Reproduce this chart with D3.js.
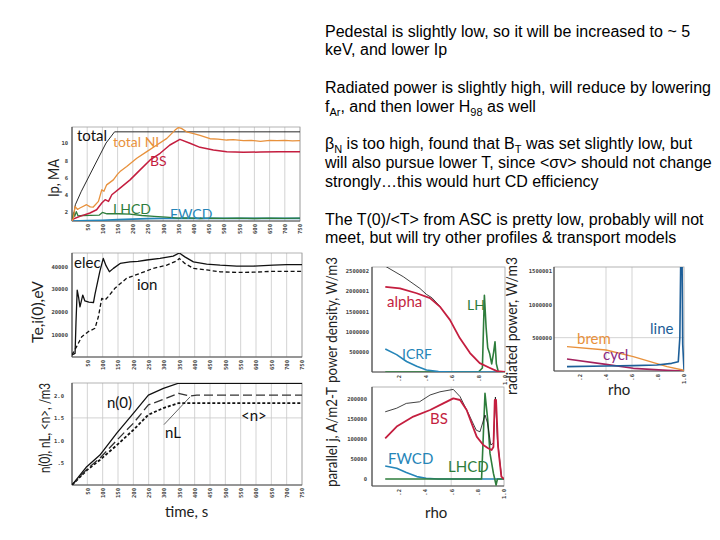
<!DOCTYPE html>
<html><head><meta charset="utf-8">
<script src="https://cdn.jsdelivr.net/npm/d3@7"></script>
<style>body{margin:0;background:#fff}svg{display:block}</style>
</head><body>
<script>
// ================= DATA =================
const timeTicks = [50,100,150,200,250,300,350,400,450,500,550,600,650,700,750];

// Ip panel (time s, MA)
const ipTicks = [2,4,6,8,10];
const ipTotal = [[0,0.96],[4,1.3],[11,2.85],[30,4.35],[75,7.46],[112,10.0],[140,11.3],[200,11.3],[300,11.3],[400,11.3],[500,11.3],[600,11.3],[750,11.3]];
const ipTotalNI = [[0,0.96],[4,1.2],[10,2.65],[18,2.3],[26,2.47],[48,2.85],[60,2.6],[70,2.58],[87,3.23],[98,4.58],[105,4.4],[114,5.15],[136,5.73],[150,6.4],[158,6.69],[180,7.27],[213,8.23],[246,9.0],[279,9.77],[312,10.54],[339,11.5],[350,11.8],[360,11.7],[377,11.3],[400,11.1],[421,10.9],[454,10.5],[480,10.45],[509,10.35],[530,10.4],[564,10.27],[590,10.3],[620,10.2],[650,10.3],[675,10.27],[700,10.3],[725,10.25],[750,10.27]];
const ipBS = [[0,0.96],[4,1.2],[26,1.5],[59,1.89],[81,2.27],[98,3.04],[109,3.43],[120,3.23],[131,4.0],[158,4.77],[191,5.73],[224,6.89],[257,8.04],[290,8.81],[322,9.77],[355,10.43],[388,9.97],[421,9.5],[465,9.19],[509,9.0],[564,8.92],[620,8.96],[680,8.98],[750,9.0]];
const ipLHCD = [[0,0.96],[5,1.9],[9,1.5],[14,2.05],[20,1.55],[35,1.6],[60,1.62],[90,1.65],[100,1.95],[115,1.8],[150,1.8],[190,1.75],[230,1.6],[270,1.5],[310,1.4],[350,1.3],[380,1.32],[420,1.25],[460,1.3],[500,1.26],[550,1.3],[600,1.25],[650,1.3],[700,1.27],[750,1.3]];
const ipFWCD = [[0,0.96],[50,1.0],[100,1.05],[150,1.12],[200,1.18],[250,1.23],[300,1.26],[350,1.27],[450,1.27],[550,1.26],[650,1.27],[750,1.27]];

// Te,i(0) panel (time s, eV)
const teTicks = [10000,20000,30000,40000];
const teElec = [[0,900],[10,1600],[13,15300],[17,29600],[22,26000],[26,22200],[35,27400],[42,24800],[55,24300],[70,24100],[75,27800],[91,38000],[102,43600],[111,40400],[122,37700],[135,39200],[157,41400],[189,42100],[215,42300],[244,42900],[287,43600],[330,44600],[350,46000],[368,44300],[396,42100],[439,41100],[483,40600],[537,40200],[591,40200],[656,40600],[700,40900],[750,40900]];
const teIon = [[0,900],[15,4600],[32,9000],[53,11200],[75,12700],[86,17800],[97,25900],[108,25200],[118,26700],[140,30400],[178,34800],[222,37000],[265,39200],[309,40600],[341,42500],[350,43600],[368,41400],[396,39200],[439,38500],[483,37700],[537,37400],[591,37500],[656,37900],[750,37900]];

// density panel (time s, 1e20/m3)
const nTicks = [0.5,1.0,1.5,2.0];
const nTickLabels = [".5","1.0","1.5","2.0"];
const n0 = [[0,0],[48,0.41],[91,0.67],[146,1.16],[200,1.6],[249,2.01],[298,2.16],[345,2.27],[750,2.27]];
const nL = [[0,0],[48,0.35],[91,0.6],[146,1.0],[200,1.38],[249,1.79],[308,1.94],[347,2.05],[385,1.99],[407,2.01],[750,2.01]];
const nAvg = [[0,0],[48,0.33],[91,0.56],[146,0.89],[200,1.23],[249,1.57],[298,1.72],[347,1.83],[750,1.83]];

// rho axis
const rhoTicks = [0.2,0.4,0.6,0.8,1.0];
const rhoTickLabels = [".2",".4",".6",".8","1.0"];

// power density panel (rho, W/m3)
const pdTicks = [500000,1000000,1500001,2000001,2500002];
const pdTotal = [[0.1,2.62e6],[0.235,2.36e6],[0.36,2.07e6],[0.41,1.92e6],[0.45,1.84e6],[0.51,1.63e6]];
const pdAlpha = [[0.1,2.11e6],[0.21,2.07e6],[0.336,1.95e6],[0.436,1.83e6],[0.51,1.62e6],[0.586,1.29e6],[0.66,0.84e6],[0.737,0.47e6],[0.81,0.22e6],[0.887,0.1e6],[0.94,0.02e6],[1.0,0]];
const pdICRF = [[0.1,0.57e6],[0.185,0.43e6],[0.26,0.26e6],[0.336,0.14e6],[0.41,0.05e6],[0.5,0.01e6],[0.6,0],[1.0,0]];
const pdLH = [[0.1,0],[0.8,0],[0.83,0.1e6],[0.845,1.9e6],[0.858,1.1e6],[0.87,0.6e6],[0.885,0.45e6],[0.9,0.2e6],[0.915,0.5e6],[0.925,0.75e6],[0.935,0.2e6],[0.95,0],[1.0,0]];

// radiated power panel (rho, W/m3)
const radTicks = [500000,1000000,1500001];
const radLine = [[0.1,0.065e6],[0.4,0.075e6],[0.61,0.08e6],[0.79,0.09e6],[0.905,0.115e6],[0.956,0.14e6],[0.968,0.5e6],[0.975,1.7e6],[0.985,1.7e6],[0.99,0.4e6],[1.0,0.02e6]];
const radBrem = [[0.1,0.365e6],[0.4,0.315e6],[0.61,0.215e6],[0.74,0.14e6],[0.87,0.065e6],[1.0,0.01e6]];
const radCycl = [[0.1,0.18e6],[0.4,0.1e6],[0.61,0.04e6],[0.87,0.01e6],[1.0,0]];

// parallel current panel (rho, A/m2-T)
const jTicks = [0,50000,100000,150000,200000];
const jTotal = [[0.1,168000],[0.187,177000],[0.26,189000],[0.36,193000],[0.44,210000],[0.515,218000],[0.616,224000],[0.667,206000],[0.73,164000],[0.79,122000],[0.818,118000],[0.856,160000],[0.875,140000],[0.9,85000],[0.92,90000],[0.935,205000],[0.95,100000],[0.98,10000]];
const jBS = [[0.1,101700],[0.187,131000],[0.313,156000],[0.44,172500],[0.54,189000],[0.616,201500],[0.667,197500],[0.717,172500],[0.755,139000],[0.793,106000],[0.843,85000],[0.88,77000],[0.906,72500],[0.92,80000],[0.93,197500],[0.94,197500],[0.955,81000],[0.98,6000],[1.0,0]];
const jFWCD = [[0.1,32500],[0.187,26700],[0.26,16000],[0.34,6000],[0.41,2000],[0.5,0],[1.0,0]];
const jLHCD = [[0.1,0],[0.83,0],[0.856,214000],[0.877,147000],[0.894,64000],[0.92,14000],[0.94,-15000],[0.95,0],[1.0,0]];

// slide notes (segments: [text, isSubscript])
const notes = [
  [["Pedestal is slightly low, so it will be increased to ~ 5"]],
  [["keV, and lower Ip"]],
  [],
  [["Radiated power is slightly high, will reduce by lowering"]],
  [["f"],["Ar",1],[", and then lower H"],["98",1],[" as well"]],
  [],
  [["β"],["N",1],[" is too high, found that B"],["T",1],[" was set slightly low, but"]],
  [["will also pursue lower T, since <σv> should not change"]],
  [["strongly…this would hurt CD efficiency"]],
  [],
  [["The T(0)/<T> from ASC is pretty low, probably will not"]],
  [["meet, but will try other profiles & transport models"]]
];

// ================= DRAW =================
const C = {orange:"#e8913c", red:"#c41e3f", green:"#2e7d3c", teal:"#2585b8", blue:"#1d5e98", purple:"#8c2a82", magenta:"#a3225e"};
const LF = "Lato, 'Open Sans', sans-serif";
const TF = "'DejaVu Sans Mono', monospace";
const svg = d3.select("body").append("svg").attr("width",720).attr("height",540);
let cid = 0;

function panel(o){
  const g = svg.append("g");
  const x = d3.scaleLinear().domain(o.xd).range([o.l,o.r]);
  const y = d3.scaleLinear().domain(o.yd).range([o.b,o.t]);
  const id = "clip"+(cid++);
  svg.append("clipPath").attr("id",id).append("rect")
    .attr("x",o.l).attr("y",o.t).attr("width",o.r-o.l).attr("height",o.b-o.t);
  g.selectAll(null).data(o.vGrid||[]).join("line")
    .attr("x1",d=>x(d)).attr("x2",d=>x(d)).attr("y1",o.t).attr("y2",o.b)
    .attr("stroke","#c8c8c8").attr("stroke-width",0.8);
  g.selectAll(null).data(o.hGrid||[]).join("line")
    .attr("y1",d=>y(d)).attr("y2",d=>y(d)).attr("x1",o.l).attr("x2",o.r)
    .attr("stroke","#c8c8c8").attr("stroke-width",0.8);
  g.append("rect").attr("x",o.l).attr("y",o.t).attr("width",o.r-o.l).attr("height",o.b-o.t)
    .attr("fill","none").attr("stroke","#a0a0a0").attr("stroke-width",0.8);
  g.append("line").attr("x1",o.l).attr("x2",o.l).attr("y1",o.t).attr("y2",o.b).attr("stroke","#333").attr("stroke-width",1);
  g.append("line").attr("x1",o.l).attr("x2",o.r).attr("y1",o.b).attr("y2",o.b).attr("stroke","#555").attr("stroke-width",1);
  const xa = g.append("g").attr("transform",`translate(0,${o.b})`)
    .call(d3.axisBottom(x).tickValues(o.xTicks).tickSize(0).tickFormat((d,i)=>o.xLabels?o.xLabels[i]:d));
  xa.select(".domain").remove();
  xa.selectAll("text").attr("transform","rotate(-90)").attr("x",-3).attr("y",0).attr("dy","0.35em")
    .attr("text-anchor","end").attr("font-family",TF).attr("font-size",5.5).attr("font-weight","bold").attr("fill","#444");
  const ya = g.append("g").attr("transform",`translate(${o.l},0)`)
    .call(d3.axisLeft(y).tickValues(o.yTicks).tickSize(0).tickPadding(o.yPad||4).tickFormat((d,i)=>o.yLabels?o.yLabels[i]:d));
  ya.select(".domain").remove();
  ya.selectAll("text").attr("font-family",TF).attr("font-size",5.5).attr("font-weight","bold").attr("fill","#444");
  const plot = g.append("g").attr("clip-path",`url(#${id})`);
  const draw = (data,color,w,dash)=>plot.append("path").datum(data)
    .attr("d",d3.line().x(d=>x(d[0])).y(d=>y(d[1])))
    .attr("fill","none").attr("stroke",color).attr("stroke-width",w)
    .attr("stroke-linejoin","round").attr("stroke-dasharray",dash||null);
  return {x,y,draw,g};
}
function label(txt,x,y,color,size,opts={}){
  return svg.append("text").attr("x",x).attr("y",y).attr("fill",color).attr("font-family",LF)
    .attr("font-size",size).attr("font-weight",opts.bold?"bold":"normal").text(txt);
}
function vtitle(txt,cx,cy,size,len){
  const t = svg.append("text").attr("transform",`translate(${cx},${cy}) rotate(-90)`)
    .attr("text-anchor","middle").attr("dy","0.35em").attr("font-family",LF).attr("font-size",size)
    .attr("fill","#222").text(txt);
  if(len) t.attr("textLength",len).attr("lengthAdjust","spacingAndGlyphs");
}

// ---- Ip panel
const p1 = panel({l:72,r:300,t:127,b:221,xd:[0,750],yd:[0.96,11.86],xTicks:timeTicks,yTicks:ipTicks,vGrid:timeTicks});
p1.draw(ipFWCD,C.teal,1.6);
p1.draw(ipLHCD,C.green,1.3);
p1.draw(ipTotal,"#111",0.9);
p1.draw(ipBS,C.red,1.5);
p1.draw(ipTotalNI,C.orange,1.3);
label("total",77,141,"#111",15);
label("total NI",113,147,C.orange,14);
label("BS",150,166,C.red,14);
label("LHCD",113,214,C.green,14);
label("FWCD",170,219,C.teal,14);
vtitle("Ip, MA",54,178,15,38);

// ---- Te panel
const p2 = panel({l:72,r:302,t:253,b:357,xd:[0,750],yd:[0,46000],xTicks:timeTicks,yTicks:teTicks,vGrid:timeTicks});
p2.draw(teIon,"#111",1.3,"4,2.5");
p2.draw(teElec,"#111",1.3);
label("elec",74,268,"#111",15);
label("ion",137,290,"#111",15);
vtitle("Te,i(0),eV",38,312,15,62);

// ---- density panel
const p3 = panel({l:72,r:302,t:383,b:485,xd:[0,750],yd:[0,2.28],xTicks:timeTicks,yTicks:nTicks,yLabels:nTickLabels,vGrid:timeTicks,hGrid:[1.5],yPad:8});
p3.draw(nAvg,"#111",1.8,"3,2");
p3.draw(nL,"#333",1.3,"9,4");
p3.draw(n0,"#111",1.3);
label("n(0)",107,408,"#111",15);
label("nL",165,438,"#111",15);
label("<n>",241,421,"#111",15);
svg.append("line").attr("x1",p3.x(300)).attr("y1",p3.y(1.35)).attr("x2",p3.x(385)).attr("y2",p3.y(1.97))
  .attr("stroke","#222").attr("stroke-width",0.7);
label("time, s",165,517,"#222",15);
vtitle("n(0), nL, <n>, /m3",45,428,15,90);

// ---- power density panel
const p4 = panel({l:372,r:505,t:267,b:372,xd:[0,1],yd:[0,2.6e6],xTicks:rhoTicks,xLabels:rhoTickLabels,yTicks:pdTicks,vGrid:[0.4,0.6],yPad:3});
p4.draw(pdLH,C.green,1.6);
p4.draw(pdICRF,C.teal,1.6);
p4.draw(pdTotal,"#111",0.8);
p4.draw(pdAlpha,C.red,1.8);
label("alpha",387,307,C.red,15);
label("LH",467,310,C.green,14);
label("ICRF",402,359,C.teal,14);
vtitle("power density, W/m3",332,320,15,126);

// ---- radiated power panel
const p5 = panel({l:554,r:684,t:267,b:371,xd:[0,1],yd:[0,1.56e6],xTicks:rhoTicks,xLabels:rhoTickLabels,yTicks:radTicks,vGrid:[0.4,0.6],hGrid:[500000],yPad:2});
p5.draw(radCycl,C.magenta,1.6);
p5.draw(radBrem,C.orange,1.4);
p5.draw(radLine,C.blue,1.6);
label("line",650,334,C.blue,15);
label("brem",577,344,C.orange,15);
label("cycl",603,360,C.purple,15);
label("rho",608,395,"#222",15);
vtitle("radiated power, W/m3",512,326,15,138);

// ---- parallel current panel
const p6 = panel({l:372,r:504,t:387,b:486,xd:[0,1],yd:[-17500,230000],xTicks:rhoTicks,xLabels:rhoTickLabels,yTicks:jTicks,vGrid:[0.4,0.6],yPad:5});
p6.draw(jFWCD,C.teal,1.6);
p6.draw(jLHCD,C.green,1.6);
p6.draw(jTotal,"#111",0.8);
p6.draw(jBS,C.red,1.8);
label("BS",430,424,C.red,15);
label("FWCD",388,464,C.teal,15);
label("LHCD",448,472,C.green,15);
label("rho",425,518,"#222",15);
vtitle("parallel j, A/m2-T",332,437,15,100);

// ---- notes
const nt = svg.append("g").attr("font-family","'Liberation Sans', Arial, sans-serif").attr("font-size",16).attr("fill","#000");
notes.forEach((segs,i)=>{
  if(!segs.length) return;
  const t = nt.append("text").attr("x",325).attr("y",36.5+i*18.8);
  let sub=false;
  segs.forEach(s=>{
    const ts = t.append("tspan").text(s[0]);
    if(s[1]&&!sub){ts.attr("dy",4).attr("font-size",11);sub=true;}
    else if(s[1]){ts.attr("font-size",11);}
    else if(sub){ts.attr("dy",-4);sub=false;}
  });
});
</script>
</body></html>
